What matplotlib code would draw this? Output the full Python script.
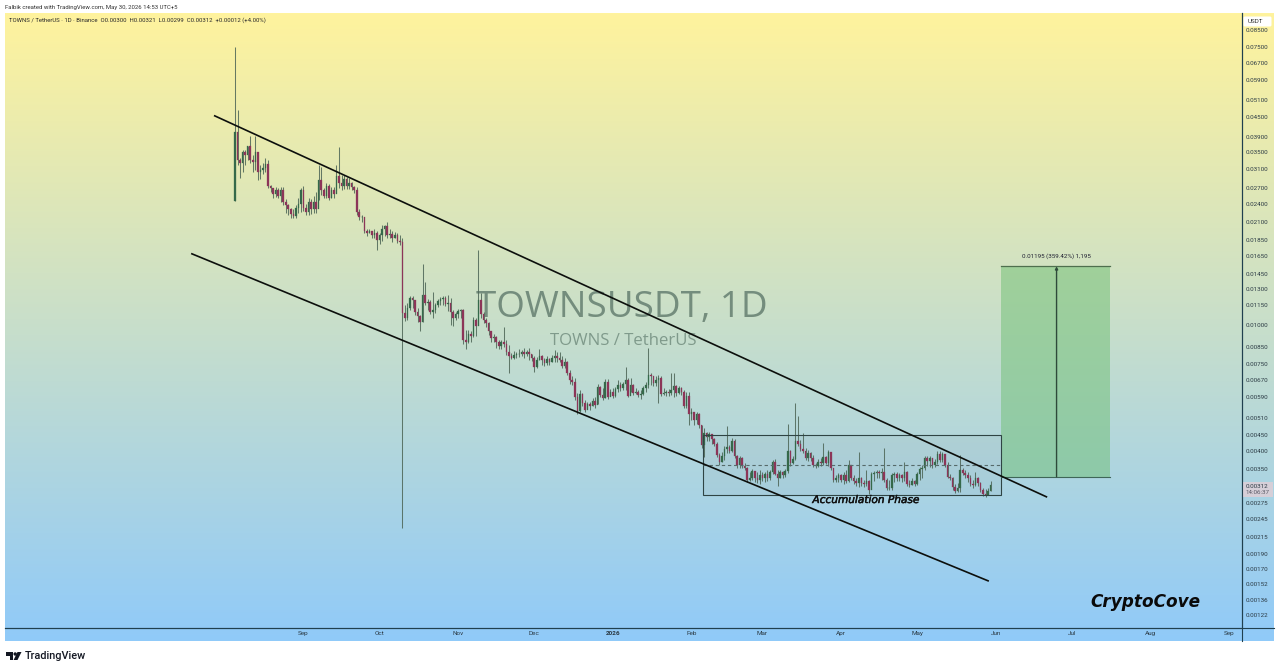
import datetime as dt
import matplotlib; matplotlib.use('agg')
import matplotlib.dates as mdates
import matplotlib.patheffects as pe
import matplotlib.pyplot as plt
import numpy as np
from matplotlib.patches import Circle, Polygon, Rectangle, FancyBboxPatch
from matplotlib.ticker import NullLocator

plt.rcParams['font.family'] = ['Roboto', 'DejaVu Sans']

# daily candles, prices in 1e-5 USDT, first candle 5 Aug 2025
start_date = dt.date(2025, 8, 5)
first_open = 2450
closes = [
    4060,3310,3240,3510,3430,3650,3310,3260,3510,3030,3080,3120,3210,2740,2700,2580,2660,2550,2660,2440,2380,2320,2240,2200,2340,2410,2650,2340,2270,2430,2310,2430,2320,2850,2660,2550,2740,2510,2660,2580,
    2950,2790,2740,2880,2740,2790,2720,2660,2260,2180,2180,1970,1950,1970,1920,1950,1850,1920,2000,2040,1920,1930,1870,1920,1840,1820,1090,
    1052,1131,1217,1199,1099,1067,1022,1243,1173,1182,1099,1115,1156,1190,1208,1217,1164,1173,1099,1052,1083,1107,1115,897,884,937,923,1037,993,1199,1083,1037,1015,957,910,916,884,859,884,871,822,798,787,804,810,810,822,810,822,810,787,737,776,798,776,759,781,765,787,798,787,
    776,743,765,706,671,661,593,536,606,568,540,564,556,576,560,638,602,589,661,593,615,598,629,647,634,652,671,598,647,611,615,602,606,634,647,696,691,656,671,681,606,611,615,611,624,643,611,634,615,556,598,524,532,502,524,484,419,
    457,444,453,437,422,389,370,386,407,413,401,431,386,362,380,359,354,325,330,347,330,325,337,328,339,330,344,370,339,330,344,335,347,401,367,378,431,422,407,401,380,395,380,362,359,370,367,383,367,398,354,325,328,337,325,335,323,362,
    330,323,318,330,318,316,323,302,339,342,344,342,344,325,306,306,335,339,328,337,328,344,316,313,323,316,339,352,354,380,372,380,362,370,392,375,392,362,332,330,309,300,306,349,342,337,330,316,313,328,318,302,293,291,300,312,
]
highs = [
    7500,4750,3360,3560,3560,3660,3940,3430,3940,3430,3190,3240,3360,3310,2760,2640,2720,2700,2720,2720,2490,2400,2340,2310,2390,2510,2700,2740,2400,2510,2490,2550,2620,3190,3140,2700,2800,2770,2720,2720,
    3190,3640,2970,2970,2930,2900,2820,2740,2720,2320,2220,2180,2000,2010,1980,2000,1980,1950,2060,2060,2100,2000,1980,1960,1940,1920,1880,
    1156,1173,1234,1234,1199,1131,1075,1556,1365,1208,1199,1270,1173,1208,1225,1234,1234,1243,1217,1115,1099,1123,1123,1123,964,964,957,1060,1052,1724,1261,1099,1052,1022,950,937,923,897,897,985,897,865,816,828,822,840,834,846,834,846,810,798,793,840,804,787,798,787,804,834,822,
    822,798,787,770,721,691,681,611,624,611,580,572,572,589,593,652,643,634,676,676,629,634,638,671,661,661,737,681,681,652,634,624,624,643,661,846,706,691,691,696,691,634,624,629,706,706,647,643,638,624,615,615,548,532,532,528,484,
    474,460,460,447,441,428,395,398,416,480,419,441,437,389,386,383,367,357,344,352,347,344,349,344,344,349,349,375,378,349,349,347,352,487,404,386,568,516,434,457,410,404,398,389,367,378,380,425,386,404,386,354,335,342,339,344,349,375,
    359,335,330,398,332,325,349,325,344,347,349,349,354,410,330,325,342,344,344,342,339,370,347,325,328,325,344,357,362,386,386,386,380,378,401,401,398,392,370,339,332,316,318,389,354,349,344,335,325,344,332,320,306,304,306,321,
]
lows = [
    2450,3190,2900,3030,3190,3310,3240,3030,3080,2850,2870,2990,3030,2700,2620,2510,2530,2510,2430,2380,2250,2220,2170,2170,2170,2250,2270,2290,2220,2220,2240,2250,2250,2480,2560,2500,2500,2480,2500,2500,
    2650,2700,2660,2680,2680,2680,2650,2610,2220,2140,2100,1940,1910,1940,1870,1870,1720,1800,1840,1910,1870,1870,1820,1870,1810,1790,229,
    1030,1037,1115,1131,1075,1022,957,1022,1156,1115,1083,1052,1091,1139,1156,1156,1148,1107,1000,993,1037,1052,1052,871,840,878,884,916,923,1000,1052,1015,985,930,884,884,846,840,840,852,804,706,781,781,787,793,798,787,798,776,770,711,732,776,748,743,748,748,765,765,765,
    765,732,732,696,652,647,580,524,532,556,532,548,540,556,548,564,593,580,589,585,598,589,593,615,620,624,624,593,615,602,606,593,585,602,615,634,647,643,643,568,598,602,598,598,602,593,598,606,602,548,548,484,502,484,487,474,410,
    383,431,431,422,416,383,362,370,375,395,395,398,380,354,354,354,349,320,323,325,320,318,316,323,320,323,325,339,335,311,328,330,332,342,359,365,375,416,401,395,375,372,372,357,354,357,359,362,365,359,349,320,320,320,320,316,318,320,
    325,316,311,309,311,309,311,293,311,323,328,330,325,320,302,302,302,320,323,323,320,323,311,309,313,311,313,325,330,349,359,357,354,357,365,370,370,357,328,325,302,295,298,298,335,330,320,311,306,311,311,298,289,287,291,299,
]

price_ticks = [0.085, 0.075, 0.067, 0.059, 0.051, 0.045, 0.039, 0.035, 0.031, 0.027, 0.024, 0.021,
               0.0185, 0.0165, 0.0145, 0.013, 0.0115, 0.01, 0.0085, 0.0075, 0.0067, 0.0059, 0.0051,
               0.0045, 0.004, 0.0035, 0.00275, 0.00245, 0.00215, 0.0019, 0.0017, 0.00152, 0.00136, 0.00122]
month_ticks = ['2025-09-01', '2025-10-01', '2025-11-01', '2025-12-01', '2026-01-01', '2026-02-01',
               '2026-03-01', '2026-04-01', '2026-05-01', '2026-06-01', '2026-07-01', '2026-08-01', '2026-09-01']
month_labels = ['Sep', 'Oct', 'Nov', 'Dec', '2026', 'Feb', 'Mar', 'Apr', 'May', 'Jun', 'Jul', 'Aug', 'Sep']

# drawings on the chart: (date, price)
upper_line = [('2025-07-28', 0.04552), ('2026-06-21', 0.00287)]
lower_line = [('2025-07-19', 0.01673), ('2026-05-29', 0.00156)]
range_dates = ['2026-02-05T15:00', '2026-06-03']
range_prices = [0.00291, 0.0045]
range_mid = 0.00362
target_dates = ['2026-06-03', '2026-07-16']
target_prices = [0.00332, 0.01527]
target_arrow_date = '2026-06-25'
last_price = 0.00312

W, H = 1280, 671
UP = '#35694a'
DOWN = '#8c3558'
WICK = '#4d6556'
AXIS = '#20404f'


def num(d):
    return mdates.date2num(dt.datetime.fromisoformat(d))


def px_axes(l, t, r, b, **kw):
    return fig.add_axes([l / W, 1 - b / H, (r - l) / W, (b - t) / H], **kw)


closes = np.array(closes) * 1e-5
highs = np.array(highs) * 1e-5
lows = np.array(lows) * 1e-5
opens = np.r_[first_open * 1e-5, closes[:-1]]
assert len(closes) == len(highs) == len(lows) == 299
days = mdates.date2num(start_date) + np.arange(len(closes))

fig = plt.figure(figsize=(W / 100, H / 100), dpi=100, facecolor='white')

# gradient behind everything
grad = px_axes(5, 13, 1274, 641, zorder=0)
grad.axis('off')
top_rgb, bot_rgb = np.array([255, 243, 157]) / 255, np.array([144, 202, 249]) / 255
t = np.linspace(0, 1, 628)[:, None, None]
grad.imshow(top_rgb * (1 - t) + bot_rgb * t, aspect='auto', interpolation='nearest')

# watermark sits under the candles
under = px_axes(0, 0, W, H, zorder=0.5)
under.set_xlim(0, W)
under.set_ylim(H, 0)
under.axis('off')
under.text(622, 308, 'TOWNSUSDT, 1D', fontsize=26.5, family='Open Sans', color='#748d7d', ha='center', va='center')
under.text(623, 341, 'TOWNS / TetherUS', fontsize=12.1, family='Open Sans', color='#7f9a8b', ha='center', va='center')

ax = px_axes(5, 13, 1241.5, 627.5, zorder=1)
ax.patch.set_alpha(0)
ax.set_yscale('log')
ax.set_ylim(0.001112, 0.0960)
x0 = num('2025-09-01')
ax.set_xlim(x0 - 298 / 2.5315, x0 + 936.5 / 2.5315)

# candles
ax.vlines(days, lows, highs, color=WICK, lw=0.75, alpha=0.85, zorder=2)
up = closes >= opens
bar_color = np.where(up, UP, DOWN)
ax.bar(days, np.abs(closes - opens), bottom=np.minimum(opens, closes), width=0.62,
       color=bar_color, edgecolor=bar_color, linewidth=0.2, zorder=3)

# channel
for line in (upper_line, lower_line):
    ax.plot([num(line[0][0]), num(line[1][0])], [line[0][1], line[1][1]], color='#0c0f0c', lw=1.2, zorder=5)

# accumulation box
rx0, rx1 = num(range_dates[0]), num(range_dates[1])
ax.add_patch(Rectangle((rx0, range_prices[0]), rx1 - rx0, range_prices[1] - range_prices[0],
                       facecolor='#8a9aa0', alpha=0.1, edgecolor='none', zorder=1))
ax.add_patch(Rectangle((rx0, range_prices[0]), rx1 - rx0, range_prices[1] - range_prices[0],
                       fill=False, edgecolor='#2f4444', lw=0.8, zorder=4))
ax.plot([rx0, rx1], [range_mid, range_mid], color='#566a6a', lw=0.8, ls=(0, (3, 2.5)), zorder=4)

# long position target
tx0, tx1 = num(target_dates[0]), num(target_dates[1])
ax.add_patch(Rectangle((tx0, target_prices[0]), tx1 - tx0, target_prices[1] - target_prices[0],
                       facecolor='#6fbf73', alpha=0.5, edgecolor='none', zorder=1))
ax.plot([tx0, tx1], [target_prices[1]] * 2, color='#4e6f4e', lw=0.9, zorder=4)
ax.plot([tx0, tx1], [target_prices[0]] * 2, color='#3f6658', lw=0.8, zorder=4)
ax.annotate('', xy=(num(target_arrow_date), target_prices[1]), xytext=(num(target_arrow_date), target_prices[0]),
            arrowprops=dict(arrowstyle='-|>,head_width=0.08,head_length=0.15', color='#2e4a3a', lw=1.0, shrinkA=0, shrinkB=0), zorder=5)
ax.text(num(target_arrow_date), target_prices[1] * 1.055, '0.01195 (359.42%) 1,195', fontsize=4.5, color='#223',
        ha='center', va='bottom')

# axes
ax.yaxis.tick_right()
ax.set_yticks(price_ticks)
ax.set_yticklabels(['%.5f' % p for p in price_ticks], fontsize=4.5, color='#2b3a44')
ax.yaxis.set_minor_locator(NullLocator())
ax.tick_params(axis='y', length=0, pad=3.2)
ax.set_xticks([num(d) for d in month_ticks])
ax.set_xticklabels(month_labels, fontsize=4.6, color='#2b3a44')
ax.get_xticklabels()[4].set_fontweight('bold')
ax.tick_params(axis='x', length=0, pad=2.6)
for side in ('top', 'left'):
    ax.spines[side].set_visible(False)
ax.spines['right'].set_color(AXIS)
ax.spines['bottom'].set_color(AXIS)
ax.spines['right'].set_linewidth(0.8)
ax.spines['bottom'].set_linewidth(0.8)

# everything that lives in screen space
top = px_axes(0, 0, W, H, zorder=3)
top.set_xlim(0, W)
top.set_ylim(H, 0)
top.axis('off')
top.plot([5, 1274], [627.5, 627.5], color=AXIS, lw=0.8)
top.plot([1241.5, 1241.5], [13, 641], color=AXIS, lw=0.8)
top.text(5, 7, 'Falbik created with TradingView.com, May 30, 2026 14:53 UTC+5', fontsize=4.35, color='#333', va='center')
top.text(9, 20.5, 'TOWNS / TetherUS · 1D · Binance  O0.00300  H0.00321  L0.00299  C0.00312  +0.00012 (+4.00%)',
         fontsize=4.3, color='#2a2a2a', va='center')
top.add_patch(FancyBboxPatch((1244, 17), 27, 9, boxstyle='round,pad=0.5,rounding_size=1.5', fc='white', ec='none'))
top.text(1248, 21.5, 'USDT', fontsize=4.5, color='#333', va='center')

top.add_patch(Rectangle((1243, 482), 30, 15, fc='#d9cfd8', ec='none', alpha=0.95))
top.text(1246, 486.5, '%.5f' % last_price, fontsize=4.5, color='#2b3a44', va='center')
top.text(1246, 493, '14:06:37', fontsize=4.5, color='#5a5a66', va='center')

top.text(865.5, 500, 'Accumulation Phase', fontsize=7.6, family='DejaVu Sans', style='italic', color='#111', ha='center', va='center',
         path_effects=[pe.withStroke(linewidth=0.35, foreground='#111')])
top.text(1145, 602, 'CryptoCove', fontsize=12.2, family='DejaVu Sans', weight='bold', style='italic', color='#0a0a0a', ha='center', va='center')

# TradingView logo
top.add_patch(Polygon([(6, 652), (13, 652), (13, 660), (9.5, 660), (9.5, 655.5), (6, 655.5)], fc='#131722', ec='none'))
top.add_patch(Circle((15.2, 654), 1.7, fc='#131722', ec='none'))
top.add_patch(Polygon([(17.5, 652), (21.5, 652), (17.5, 660), (13.6, 660)], fc='#131722', ec='none'))
top.text(24.5, 656, 'TradingView', fontsize=7.8, weight='medium', color='#131722', va='center')

fig.savefig('out.png', dpi=100)
